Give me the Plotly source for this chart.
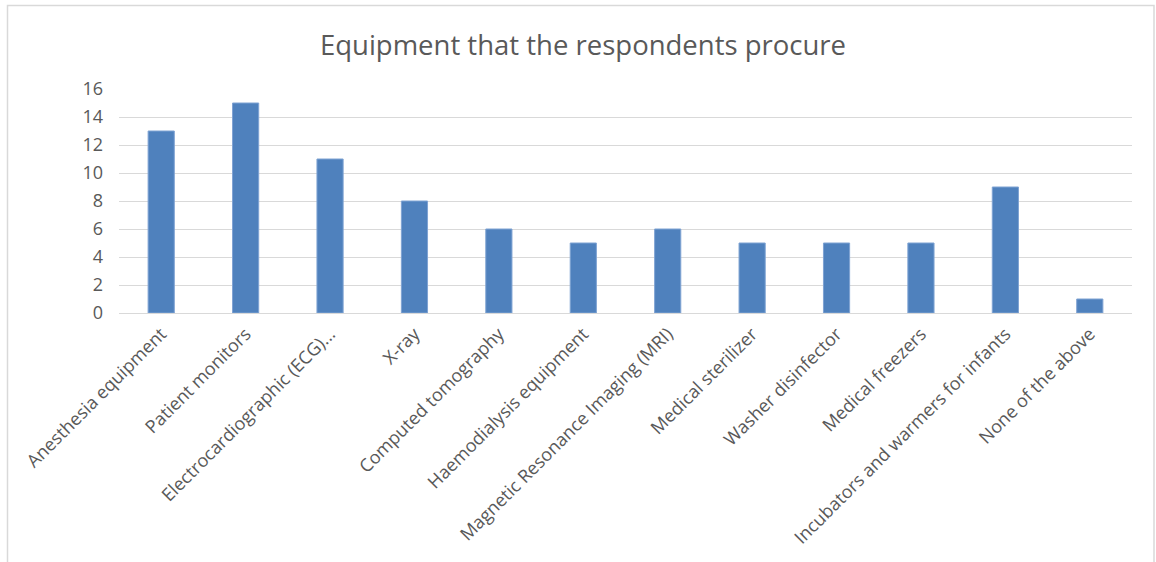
import plotly.graph_objects as go

categories = [
    "Anesthesia equipment",
    "Patient monitors",
    "Electrocardiographic (ECG)...",
    "X-ray",
    "Computed tomography",
    "Haemodialysis equipment",
    "Magnetic Resonance Imaging (MRI)",
    "Medical sterilizer",
    "Washer disinfector",
    "Medical freezers",
    "Incubators and warmers for infants",
    "None of the above",
]
values = [13, 15, 11, 8, 6, 5, 6, 5, 5, 5, 9, 1]
y_ticks = [0, 2, 4, 6, 8, 10, 12, 14, 16]

FONT = "'Open Sans', Lato, sans-serif"
TXT = "#595959"

fig = go.Figure()
fig.add_trace(go.Bar(
    x=categories, y=values,
    marker=dict(color="#4F81BD", line=dict(color="#7FA3D3", width=1)),
    width=0.31,
))

L, R, T, B = 119, 24, 89, 249
W, H = 1156, 562
pw, ph = W - L - R, H - T - B

def px_x(x):
    return (x - L) / pw

def px_y(y):
    return (H - B - y) / ph

fig.update_layout(
    width=W, height=H,
    margin=dict(l=L, r=R, t=T, b=B, autoexpand=False),
    paper_bgcolor="white", plot_bgcolor="white",
    showlegend=False,
    title=dict(text="Equipment that the respondents procure", x=583 / W, xref="container",
               xanchor="center", y=1 - 45 / H, yanchor="middle",
               font=dict(family=FONT, size=27.5, color=TXT)),
    xaxis=dict(tickangle=-45, tickfont=dict(family=FONT, size=18, color=TXT),
               showgrid=False, showline=False, zeroline=False, ticks="",
               ticklabelstandoff=6),
    yaxis=dict(range=[0, 16], tickvals=y_ticks, showgrid=True, gridcolor="#D9D9D9",
               gridwidth=1, zeroline=True, zerolinecolor="#D9D9D9", zerolinewidth=1,
               showline=False, ticks="", ticklabelstandoff=15,
               tickfont=dict(family=FONT, size=18, color=TXT)),
    shapes=[dict(type="rect", xref="paper", yref="paper",
                 x0=px_x(7.5), x1=px_x(1154), y0=px_y(566), y1=px_y(5.5),
                 line=dict(color="#D9D9D9", width=1.5), layer="below")],
)

fig.write_html("out.html")
